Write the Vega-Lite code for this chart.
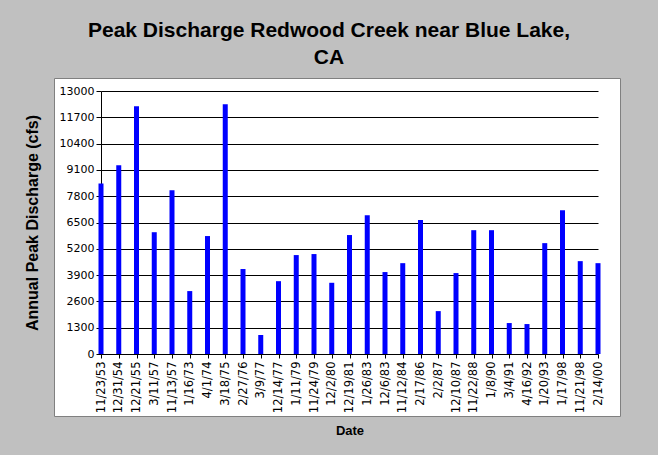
{
  "$schema": "https://vega.github.io/schema/vega-lite/v6.json",
  "autosize": {"type": "none"},
  "padding": {"left": 54, "top": 78, "right": 38, "bottom": 39},
  "width": 566,
  "height": 338,
  "background": "#C0C0C0",
  "title": {
    "text": ["Peak Discharge Redwood Creek near Blue Lake,", "CA"],
    "font": "Liberation Sans",
    "fontSize": 21,
    "fontWeight": "bold",
    "color": "#000000",
    "anchor": "middle",
    "dx": -8,
    "offset": 10,
    "lineHeight": 27
  },
  "data": {
    "values": [
      {"Date": "11/23/53", "Discharge": 8430},
      {"Date": "12/31/54", "Discharge": 9330},
      {"Date": "12/21/55", "Discharge": 12250},
      {"Date": "3/11/57", "Discharge": 6020},
      {"Date": "11/13/57", "Discharge": 8100},
      {"Date": "1/16/73", "Discharge": 3110},
      {"Date": "4/1/74", "Discharge": 5830},
      {"Date": "3/18/75", "Discharge": 12340},
      {"Date": "2/27/76", "Discharge": 4200},
      {"Date": "3/9/77", "Discharge": 940},
      {"Date": "12/14/77", "Discharge": 3600},
      {"Date": "1/11/79", "Discharge": 4890},
      {"Date": "11/24/79", "Discharge": 4940},
      {"Date": "12/2/80", "Discharge": 3520},
      {"Date": "12/19/81", "Discharge": 5880},
      {"Date": "1/26/83", "Discharge": 6860},
      {"Date": "12/6/83", "Discharge": 4050},
      {"Date": "11/12/84", "Discharge": 4490},
      {"Date": "2/17/86", "Discharge": 6620},
      {"Date": "2/2/87", "Discharge": 2120},
      {"Date": "12/10/87", "Discharge": 4000},
      {"Date": "11/22/88", "Discharge": 6120},
      {"Date": "1/8/90", "Discharge": 6120},
      {"Date": "3/4/91", "Discharge": 1530},
      {"Date": "4/16/92", "Discharge": 1480},
      {"Date": "1/20/93", "Discharge": 5480},
      {"Date": "1/17/98", "Discharge": 7110},
      {"Date": "11/21/98", "Discharge": 4590},
      {"Date": "2/14/00", "Discharge": 4490}
    ]
  },
  "mark": {"type": "bar", "color": "#0000FF", "size": 5},
  "encoding": {
    "x": {
      "field": "Date",
      "type": "ordinal",
      "sort": null,
      "scale": {"type": "point", "range": [47, 544], "padding": 0},
      "axis": {
        "title": "Date",
        "offset": -62,
        "labelAngle": -90,
        "labelFont": "DejaVu Sans",
        "labelFontSize": 11.5,
        "labelColor": "#000000",
        "labelPadding": 3,
        "tickSize": 4,
        "tickColor": "#000000",
        "domainColor": "#000000",
        "titleFont": "Liberation Sans",
        "titleFontSize": 13,
        "titleFontWeight": "bold",
        "titleColor": "#000000",
        "titlePadding": 12,
        "grid": false
      }
    },
    "y": {
      "field": "Discharge",
      "type": "quantitative",
      "scale": {"domain": [0, 13000], "range": [276, 13], "nice": false},
      "axis": {
        "title": "Annual Peak Discharge (cfs)",
        "offset": -47,
        "values": [0, 1300, 2600, 3900, 5200, 6500, 7800, 9100, 10400, 11700, 13000],
        "format": "d",
        "grid": true,
        "gridColor": "#000000",
        "gridOpacity": 1,
        "gridWidth": 1,
        "labelFont": "DejaVu Sans",
        "labelFontSize": 11,
        "labelColor": "#000000",
        "labelPadding": 2,
        "tickSize": 5,
        "tickColor": "#000000",
        "domainColor": "#000000",
        "titleFont": "Liberation Sans",
        "titleFontSize": 16,
        "titleFontWeight": "bold",
        "titleColor": "#000000",
        "titlePadding": 19
      }
    }
  },
  "config": {
    "view": {"fill": "#FFFFFF", "stroke": "#808080", "strokeWidth": 1}
  }
}
